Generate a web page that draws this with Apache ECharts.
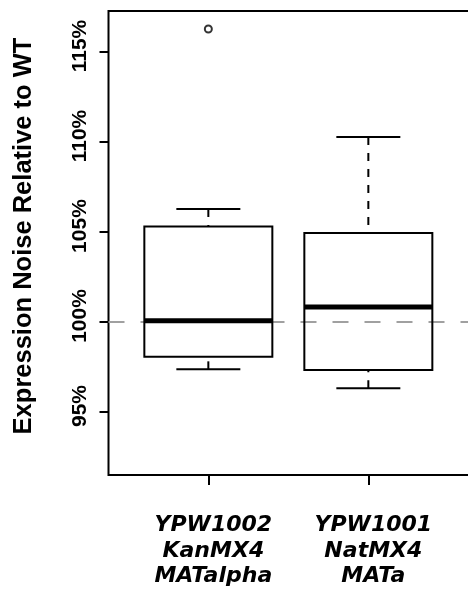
<!DOCTYPE html>
<html>
<head>
<meta charset="utf-8">
<script src="https://cdn.jsdelivr.net/npm/echarts@6/dist/echarts.min.js"></script>
<style>
  html, body { margin: 0; padding: 0; background: #fff; }
  #chart { width: 468px; height: 603px; }
</style>
</head>
<body>
<div id="chart"></div>
<script>
// Strain groups (one box each), drawn at x = 1, 2
const groups = ['YPW1002\nKanMX4\nMATalpha', 'YPW1001\nNatMX4\nMATa'];
const positions = [1, 2];

// Box statistics, expression noise in % of WT
const lowerWhisker = [97.37, 96.32];
const q1 = [98.07, 97.33];
const median = [100.07, 100.83];
const q3 = [105.3, 104.94];
const upperWhisker = [106.28, 110.28];

// Points beyond the whiskers: [position, value]
const outliers = [[1, 116.28]];

// Y tick values and the WT reference level
const yTicks = [95, 100, 105, 110, 115];
const wtLevel = 100;

const boxData = positions.map((p, i) =>
  [p, lowerWhisker[i], q1[i], median[i], q3[i], upperWhisker[i]]);

const chart = echarts.init(document.getElementById('chart'), null, { renderer: 'canvas' });

function renderBox(params, api) {
  const x = api.value(0);
  const lo = api.coord([x, api.value(1)]);
  const b1 = api.coord([x, api.value(2)]);
  const md = api.coord([x, api.value(3)]);
  const b3 = api.coord([x, api.value(4)]);
  const hi = api.coord([x, api.value(5)]);
  const halfBox = api.size([0.8, 0])[0] / 2;
  const halfCap = api.size([0.4, 0])[0] / 2;
  const cx = lo[0];
  const solid = { stroke: '#000', lineWidth: 2, fill: null };
  const dashed = { stroke: '#000', lineWidth: 2, lineDash: [8, 8], fill: null };
  return {
    type: 'group',
    children: [
      { type: 'line', shape: { x1: cx, y1: hi[1], x2: cx, y2: b3[1] }, style: dashed },
      { type: 'line', shape: { x1: cx, y1: lo[1], x2: cx, y2: b1[1] }, style: dashed },
      { type: 'line', shape: { x1: cx - halfCap, y1: hi[1], x2: cx + halfCap, y2: hi[1] }, style: solid },
      { type: 'line', shape: { x1: cx - halfCap, y1: lo[1], x2: cx + halfCap, y2: lo[1] }, style: solid },
      { type: 'rect', shape: { x: cx - halfBox, y: b3[1], width: halfBox * 2, height: b1[1] - b3[1] }, style: solid },
      { type: 'line', shape: { x1: cx - halfBox, y1: md[1], x2: cx + halfBox, y2: md[1] },
        style: { stroke: '#000', lineWidth: 5 } }
    ]
  };
}

const sansFont = 'Arial, "Liberation Sans", Helvetica, sans-serif';

const option = {
  animation: false,
  backgroundColor: '#fff',
  grid: {
    left: 108.5, top: 11, bottom: 128, right: -2.74,
    outerBoundsMode: 'none',
    containLabel: false,
    show: true, borderColor: '#000', borderWidth: 2, backgroundColor: 'transparent'
  },
  xAxis: {
    type: 'value',
    min: 0.376, max: 2.64,
    splitLine: { show: false },
    axisLine: { show: false },
    axisTick: { show: true, customValues: positions, length: 10, lineStyle: { color: '#000', width: 2 } },
    axisLabel: {
      customValues: positions,
      formatter: v => groups[positions.indexOf(v)],
      margin: 38,
      padding: [0, 0, 0, 10],
      fontFamily: 'DejaVu Sans', fontStyle: 'italic', fontWeight: 'bold',
      fontSize: 22, lineHeight: 25.5, color: '#000'
    }
  },
  yAxis: {
    type: 'value',
    min: 91.5, max: 117.28,
    name: 'Expression Noise Relative to WT',
    nameLocation: 'middle',
    nameGap: 72,
    nameTextStyle: {
      fontFamily: sansFont, fontWeight: 'bold', fontSize: 25.5, color: '#000',
      padding: [0, 0, 0, 14]
    },
    splitLine: { show: false },
    axisLine: { show: false },
    axisTick: { show: true, customValues: yTicks, length: 9, lineStyle: { color: '#000', width: 2 } },
    axisLabel: {
      customValues: yTicks,
      formatter: v => v + '%',
      rotate: 90,
      margin: 18,
      padding: [0, 0, 0, 12],
      fontFamily: sansFont, fontWeight: 'bold', fontSize: 21, color: '#000'
    }
  },
  series: [
    {
      type: 'scatter',
      data: outliers,
      symbol: 'circle',
      symbolSize: 7,
      itemStyle: { color: '#fff', borderColor: '#000', borderWidth: 2 },
      z: 4,
      markLine: {
        silent: true,
        z: 1,
        symbol: 'none',
        label: { show: false },
        lineStyle: { color: '#a0a0a0', width: 2, type: [16, 16] },
        data: [{ yAxis: wtLevel }]
      }
    },
    {
      type: 'custom',
      renderItem: renderBox,
      data: boxData,
      encode: { x: 0, y: [1, 2, 3, 4, 5] },
      z: 3
    }
  ]
};

chart.setOption(option);
</script>
</body>
</html>
